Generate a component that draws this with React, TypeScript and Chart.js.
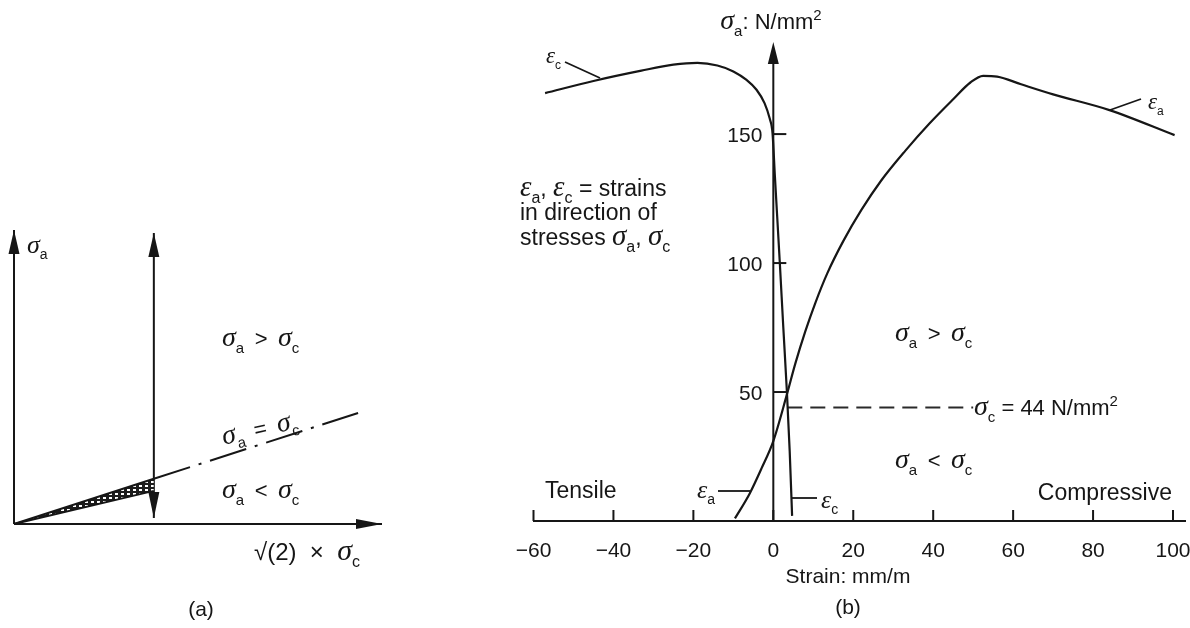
import React, { useEffect, useRef } from 'react';
import { Chart, registerables } from 'chart.js';

Chart.register(...registerables);

// ---------- panel (b) data ----------
const strainTicks = [-60, -40, -20, 0, 20, 40, 60, 80, 100];
const stressTicks = [50, 100, 150];
const strainMin = -60;
const strainMax = 103;
const stressMax = 185.7;

const epsCStrain = [-57.1, -45, -33, -25, -19, -14, -10, -6.7, -4.2, -2.2, -0.9, -0.2, 0.4, 1.6, 2.5, 3.4, 4.1, 4.7];
const epsCStress = [165.9, 170.6, 174.6, 176.9, 177.6, 176.6, 174.3, 171.0, 167.2, 162.0, 156.0, 150.4, 133.5, 100.8, 75.0, 50.0, 27.0, 2.0];

const epsAStrain = [-9.6, -5.9, -2.95, 0, 3.3, 5.5, 8, 10.5, 13.5, 17.5, 22, 27, 33, 39, 45, 49.3, 52.5, 56, 62, 70, 84.1, 100.4];
const epsAStress = [1.0, 10.7, 20.4, 31.0, 48.5, 61.0, 73.5, 84.5, 96.0, 108.5, 120.5, 132.0, 143.5, 154.0, 163.5, 170.0, 172.6, 172.3, 169.3, 165.4, 159.3, 149.6];

const sigmaC = 44;
const sigmaCStart = 3.5;
const sigmaCEnd = 50;

// ---------- panel (a) data (schematic units) ----------
const aAxisX = 100;
const aAxisY = 80;
const equalityX = [0, 38, 93.5];
const equalityY = [0, 12.3, 30.2];
const bandLowerX = [0, 38];
const bandLowerY = [0, 9.0];
const arrowX = 38;
const arrowY = [1.6, 79.2];

// ---------- helpers ----------
const INK = '#161616';
const SANS = '"Liberation Sans", Arial, sans-serif';
const SERIF = '"Liberation Serif", "Times New Roman", serif';

type Kind = 'n' | 'g' | 'sub' | 'sup' | 'b';
type Seg = [string, Kind?];

function segFont(kind: Kind, size: number) {
  switch (kind) {
    case 'g':
      return `italic ${Math.round(size * 1.25)}px ${SERIF}`;
    case 'sub':
    case 'sup':
      return `${Math.round(size * 0.68)}px ${SANS}`;
    case 'b':
      return `bold ${size}px ${SANS}`;
    default:
      return `${size}px ${SANS}`;
  }
}

function drawRich(ctx: CanvasRenderingContext2D, segs: Seg[], x: number, cy: number, size: number, align: 'left' | 'center' | 'right' = 'left', angle = 0) {
  ctx.save();
  ctx.translate(x, cy);
  if (angle) ctx.rotate(angle);
  let w = 0;
  const widths = segs.map(([t, k = 'n']) => {
    ctx.font = segFont(k as Kind, size);
    const m = ctx.measureText(t).width;
    w += m;
    return m;
  });
  let cx = align === 'left' ? 0 : align === 'center' ? -w / 2 : -w;
  const base = size * 0.36;
  ctx.textBaseline = 'alphabetic';
  ctx.textAlign = 'left';
  ctx.fillStyle = INK;
  segs.forEach(([t, k = 'n'], i) => {
    ctx.font = segFont(k as Kind, size);
    const dy = k === 'sub' ? size * 0.3 : k === 'sup' ? -size * 0.42 : 0;
    ctx.fillText(t, cx, base + dy);
    cx += widths[i];
  });
  ctx.restore();
}

function arrowHead(ctx: CanvasRenderingContext2D, tipX: number, tipY: number, dx: number, dy: number, len: number, half: number) {
  const bx = tipX - dx * len;
  const by = tipY - dy * len;
  const px = -dy;
  const py = dx;
  ctx.beginPath();
  ctx.moveTo(tipX, tipY);
  ctx.lineTo(bx + px * half, by + py * half);
  ctx.lineTo(bx - px * half, by - py * half);
  ctx.closePath();
  ctx.fill();
}

function seg(ctx: CanvasRenderingContext2D, x1: number, y1: number, x2: number, y2: number) {
  ctx.beginPath();
  ctx.moveTo(x1, y1);
  ctx.lineTo(x2, y2);
  ctx.stroke();
}

const xy = (xs: number[], ys: number[]) => xs.map((x, i) => ({ x, y: ys[i] }));

function makeHatch() {
  const c = document.createElement('canvas');
  c.width = 6;
  c.height = 4;
  const g = c.getContext('2d')!;
  g.fillStyle = '#1c1c1c';
  g.fillRect(0, 0, 6, 4);
  g.fillStyle = '#fff';
  g.fillRect(1, 1, 3, 2);
  return g.createPattern(c, 'repeat');
}

const TS = '\u2009';
const sa: Seg[] = [['σ', 'g'], ['a', 'sub']];
const sc: Seg[] = [['σ', 'g'], ['c', 'sub']];
const ea: Seg[] = [['ε', 'g'], ['a', 'sub']];
const ec: Seg[] = [['ε', 'g'], ['c', 'sub']];

// ---------- panel (b) plugin ----------
const OXB = 500;
const bDecor = {
  id: 'bDecor',
  afterDraw(chart: any) {
    const { ctx } = chart;
    const x = chart.scales.x;
    const y = chart.scales.y;
    const X = (v: number) => x.getPixelForValue(v);
    const Y = (v: number) => y.getPixelForValue(v);
    const P = (px: number) => px - OXB;
    ctx.save();
    ctx.strokeStyle = INK;
    ctx.fillStyle = INK;
    ctx.lineWidth = 2;
    // y axis with arrow
    seg(ctx, X(0), Y(0), X(0), Y(stressMax) + 16);
    arrowHead(ctx, X(0), Y(stressMax), 0, -1, 22, 5.5);
    // y ticks + labels
    stressTicks.forEach((v) => {
      seg(ctx, X(0), Y(v), X(0) + 13, Y(v));
      drawRich(ctx, [[String(v)]], X(0) - 11, Y(v), 21, 'right');
    });
    // x ticks pointing up
    strainTicks.forEach((v) => seg(ctx, X(v), Y(0), X(v), Y(0) - 11));
    // leaders
    ctx.lineWidth = 1.8;
    seg(ctx, P(565), 62, P(600), 78);
    seg(ctx, P(1110), 110, P(1141), 99);
    seg(ctx, P(718), 491, P(750), 491);
    seg(ctx, P(792), 498, P(817), 498);
    ctx.restore();

    // texts
    drawRich(ctx, [...sa, [': N/mm'], ['2', 'sup']], P(771), 21, 22, 'center');
    drawRich(ctx, [...ea, [', '], ...ec, [' = strains']], P(520), 188, 23);
    drawRich(ctx, [['in direction of']], P(520), 212, 23);
    drawRich(ctx, [['stresses '], ...sa, [', '], ...sc], P(520), 237, 23);
    drawRich(ctx, [...sa, [' ' + TS + '>' + TS + ' '], ...sc], P(895), 333, 22);
    drawRich(ctx, [...sa, [' ' + TS + '<' + TS + ' '], ...sc], P(895), 460, 22);
    drawRich(ctx, [...sc, [' = ' + sigmaC + ' N/mm'], ['2', 'sup']], P(974), 407, 22);
    drawRich(ctx, [['Tensile']], P(545), 490, 23);
    drawRich(ctx, [['Compressive']], P(1172), 492, 23, 'right');
    drawRich(ctx, ea, P(697), 490, 21);
    drawRich(ctx, ec, P(821), 500, 21);
    drawRich(ctx, ec, P(546), 57, 18);
    drawRich(ctx, ea, P(1148), 103, 18);
    drawRich(ctx, [['Strain: mm/m']], P(848), 575, 21, 'center');
    drawRich(ctx, [['(b)']], P(848), 606, 21, 'center');
  },
};

// ---------- panel (a) plugin ----------
const OYA = 200;
const aDecor = {
  id: 'aDecor',
  afterDraw(chart: any) {
    const { ctx } = chart;
    const x = chart.scales.x;
    const y = chart.scales.y;
    const X = (v: number) => x.getPixelForValue(v);
    const Y = (v: number) => y.getPixelForValue(v);
    const Q = (py: number) => py - OYA;
    ctx.save();
    ctx.fillStyle = INK;
    arrowHead(ctx, X(0), Y(aAxisY), 0, -1, 24, 5.5);
    arrowHead(ctx, X(aAxisX), Y(0), 1, 0, 26, 5);
    arrowHead(ctx, X(arrowX), Y(arrowY[1]), 0, -1, 24, 5.5);
    arrowHead(ctx, X(arrowX), Y(arrowY[0]), 0, 1, 26, 5.5);
    ctx.restore();

    drawRich(ctx, sa, 27, Q(245), 21);
    drawRich(ctx, [...sa, [' ' + TS + '>' + TS + ' '], ...sc], 222, Q(338), 22);
    drawRich(ctx, [...sa, [' ' + TS + '=' + TS + ' '], ...sc], 222, Q(437), 22, 'left', -0.22);
    drawRich(ctx, [...sa, [' ' + TS + '<' + TS + ' '], ...sc], 222, Q(490), 22);
    drawRich(ctx, [['√(2)  ×  '], ...sc], 254, Q(551), 24);
    drawRich(ctx, [['(a)']], 201, Q(608), 21, 'center');
  },
};

const lineDs = (data: any[], extra: any = {}) => ({
  data,
  borderColor: INK,
  borderWidth: 2,
  pointRadius: 0,
  fill: false,
  clip: false,
  ...extra,
});

export default function App() {
  const aRef = useRef<HTMLCanvasElement>(null);
  const bRef = useRef<HTMLCanvasElement>(null);

  useEffect(() => {
    const hatch = makeHatch();
    const ca = new Chart(aRef.current!, {
      type: 'line',
      data: {
        datasets: [
          lineDs(xy(equalityX.slice(0, 2), equalityY.slice(0, 2))),
          lineDs(xy(bandLowerX, bandLowerY), { fill: '-1', backgroundColor: hatch, borderWidth: 1.8 }),
          lineDs(xy(equalityX.slice(1), equalityY.slice(1)), { borderDash: [38, 9, 3, 9] }),
          lineDs([{ x: arrowX, y: arrowY[0] }, { x: arrowX, y: arrowY[1] }]),
          lineDs([{ x: 0, y: 0 }, { x: 0, y: aAxisY }]),
          lineDs([{ x: 0, y: 0 }, { x: aAxisX, y: 0 }]),
        ],
      },
      options: {
        animation: false,
        responsive: false,
        events: [],
        layout: { padding: { left: 14, right: 18, top: 30, bottom: 104 } },
        plugins: { legend: { display: false }, tooltip: { enabled: false } },
        scales: {
          x: { type: 'linear', min: 0, max: aAxisX, display: false },
          y: { type: 'linear', min: 0, max: aAxisY, display: false },
        },
      },
      plugins: [aDecor],
    } as any);

    const cb = new Chart(bRef.current!, {
      type: 'line',
      data: {
        datasets: [
          lineDs(xy(epsCStrain, epsCStress), { label: 'εc', borderWidth: 2.2, cubicInterpolationMode: 'monotone' }),
          lineDs(xy(epsAStrain, epsAStress), { label: 'εa', borderWidth: 2.2, cubicInterpolationMode: 'monotone' }),
          lineDs([{ x: sigmaCStart, y: sigmaC }, { x: sigmaCEnd, y: sigmaC }], { label: 'σc', borderDash: [15, 8], borderColor: '#2a2a2a' }),
        ],
      },
      options: {
        animation: false,
        responsive: false,
        events: [],
        layout: { padding: { left: 33.5, right: 5, top: 42, bottom: 0 } },
        plugins: { legend: { display: false }, tooltip: { enabled: false } },
        scales: {
          x: {
            type: 'linear',
            min: strainMin,
            max: strainMax,
            afterBuildTicks: (s: any) => {
              s.ticks = strainTicks.map((v) => ({ value: v }));
            },
            afterFit: (s: any) => {
              s.height = 107;
              s.paddingLeft = 0;
              s.paddingRight = 0;
            },
            grid: { display: false, drawTicks: false },
            border: { display: true, color: INK, width: 2 },
            ticks: {
              font: { family: SANS, size: 21 },
              color: INK,
              padding: 18,
              maxRotation: 0,
              autoSkip: false,
              callback: (v: any) => (v < 0 ? '\u2212' + Math.abs(v) : String(v)),
            },
          },
          y: { type: 'linear', min: 0, max: stressMax, display: false },
        },
      },
      plugins: [bDecor],
    } as any);

    return () => {
      ca.destroy();
      cb.destroy();
    };
  }, []);

  return (
    <div style={{ position: 'absolute', left: 0, top: 0, width: 1190, height: 628, background: '#fff', overflow: 'hidden' }}>
      <canvas ref={aRef} width={400} height={428} style={{ position: 'absolute', left: 0, top: 200, width: 400, height: 428 }} />
      <canvas ref={bRef} width={690} height={628} style={{ position: 'absolute', left: 500, top: 0, width: 690, height: 628 }} />
    </div>
  );
}
